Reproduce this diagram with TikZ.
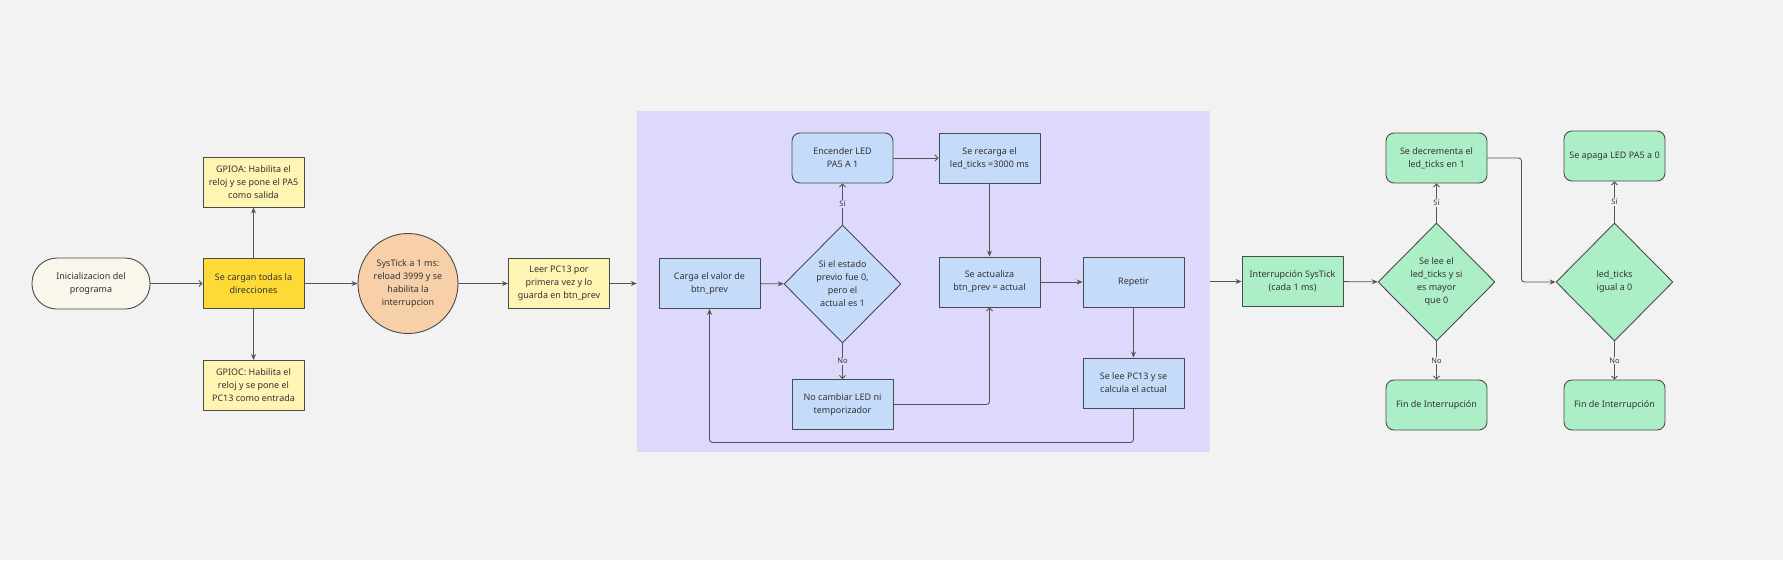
\documentclass[tikz,border=0pt]{standalone}
\usepackage{fontspec}
\setmainfont{Noto Sans}
\usetikzlibrary{arrows.meta,shapes.geometric,calc}
\definecolor{fondo}{HTML}{F2F2F2}
\definecolor{lila}{HTML}{DCD9FC}
\definecolor{azul}{HTML}{C4DBFA}
\definecolor{verde}{HTML}{ACEFC7}
\definecolor{durazno}{HTML}{F7CFA8}
\definecolor{oro}{HTML}{FDDA36}
\definecolor{amarillo}{HTML}{FFF5B2}
\definecolor{crema}{HTML}{FBF6EB}
\definecolor{borde}{HTML}{4A4A4A}
\definecolor{linea}{HTML}{555555}
\definecolor{letra}{HTML}{333333}

\begin{document}
\begin{tikzpicture}[x=1pt,y=-1pt,line cap=round,line join=round,
  font=\fontsize{9}{13}\selectfont,text=letra,
  caja/.style={draw=borde,line width=0.9pt,minimum width=101pt,minimum height=50pt,align=center,inner xsep=2pt},
  redonda/.style={caja,rounded corners=8pt},
  decision/.style={diamond,draw=borde,line width=0.9pt,minimum width=117pt,minimum height=118pt,inner sep=0pt,align=center},
  flecha/.style={draw=linea,line width=0.9pt,-{Stealth[length=6pt,width=5pt]}},
  flechaab/.style={draw=linea,line width=0.9pt,-{Straight Barb[length=3pt,width=6pt]}},
  etiqueta/.style={font=\fontsize{7.5}{9}\selectfont,inner sep=1pt}]
\useasboundingbox[fill=fondo] (0,0) rectangle (1783,560);
% bloque del bucle principal
\node[fill=lila,minimum width=573pt,minimum height=341pt,inner sep=0pt] (bucle) at (923.5,281.5) {};
% inicializacion
\node[caja,fill=crema,minimum width=118pt,minimum height=51pt,rounded corners=25pt] (inicio) at (91,283.5) {Inicializacion del\\programa};
\node[caja,fill=oro] (cargan) at (253.5,283.5) {Se cargan todas la\\direcciones};
\node[caja,fill=amarillo] (gpioa) at (253.5,182) {GPIOA: Habilita el\\reloj y se pone el PA5\\como salida};
\node[caja,fill=amarillo] (gpioc) at (253.5,385.5) {GPIOC: Habilita el\\reloj y se pone el\\PC13 como entrada};
\node[circle,draw=borde,line width=0.9pt,fill=durazno,minimum size=100pt,inner sep=0pt,align=center] (systick) at (408,283.5) {SysTick a 1 ms:\\reload 3999 y se\\habilita la\\interrupcion};
\node[caja,fill=amarillo] (leer) at (559,283.5) {Leer PC13 por\\primera vez y lo\\guarda en btn\_prev};
% bucle principal
\node[caja,fill=azul] (carga) at (709.5,283.5) {Carga el valor de\\btn\_prev};
\node[decision,fill=azul] (cond) at (842.5,284) {Si el estado\\previo fue 0,\\pero el\\actual es 1};
\node[redonda,fill=azul] (encender) at (842.5,158) {Encender LED\\PA5 A 1};
\node[caja,fill=azul] (recarga) at (989.5,158) {Se recarga el\\led\_ticks =3000 ms};
\node[caja,fill=azul] (nocambiar) at (842.5,404.5) {No cambiar LED ni\\temporizador};
\node[caja,fill=azul] (actualiza) at (989.5,282) {Se actualiza\\btn\_prev = actual};
\node[caja,fill=azul] (repetir) at (1133.5,282) {Repetir};
\node[caja,fill=azul] (selee) at (1133.5,383) {Se lee PC13 y se\\calcula el actual};
% interrupcion
\node[caja,fill=verde] (intsys) at (1292.5,281.5) {Interrupción SysTick\\(cada 1 ms)};
\node[decision,fill=verde] (mayor) at (1436.5,282) {Se lee el\\led\_ticks y si\\es mayor\\que 0};
\node[redonda,fill=verde] (decrementa) at (1436.5,158) {Se decrementa el\\led\_ticks en 1};
\node[redonda,fill=verde] (fin1) at (1436.5,405) {Fin de Interrupción};
\node[decision,fill=verde] (igual) at (1614.5,282) {led\_ticks\\igual a 0};
\node[redonda,fill=verde] (apaga) at (1614.5,156) {Se apaga LED PA5 a 0};
\node[redonda,fill=verde] (fin2) at (1614.5,405) {Fin de Interrupción};
% conexiones
\draw[flechaab] (inicio) -- (cargan);
\draw[flecha] (cargan) -- (gpioa);
\draw[flecha] (cargan) -- (gpioc);
\draw[flecha] (cargan) -- (systick);
\draw[flecha] (systick) -- (leer);
\draw[flecha] (leer) -- (leer -| bucle.west);
\draw[flecha] (carga) -- (cond);
\draw[flechaab] (cond) -- node[etiqueta,fill=lila] {Sí} (encender);
\draw[flechaab] (cond) -- node[etiqueta,fill=lila] {No} (nocambiar);
\draw[flechaab] (encender) -- (recarga);
\draw[flecha] (recarga) -- (actualiza);
\draw[flechaab,rounded corners=3pt] (nocambiar) -| (actualiza);
\draw[flecha] (actualiza) -- (repetir);
\draw[flecha] (repetir) -- (selee);
\draw[flecha,rounded corners=3pt] (selee.south) -- ++(0,34) -| (carga.south);
\draw[flecha] (bucle.east |- intsys) -- (intsys);
\draw[flecha] (intsys) -- (mayor);
\draw[flechaab] (mayor) -- node[etiqueta,fill=fondo] {Sí} (decrementa);
\draw[flechaab] (mayor) -- node[etiqueta,fill=fondo] {No} (fin1);
\draw[flecha,rounded corners=3pt] (decrementa.east) -- ++(34,0) |- (igual.west);
\draw[flechaab] (igual) -- node[etiqueta,fill=fondo] {Sí} (apaga);
\draw[flechaab] (igual) -- node[etiqueta,fill=fondo] {No} (fin2);
\end{tikzpicture}
\end{document}
